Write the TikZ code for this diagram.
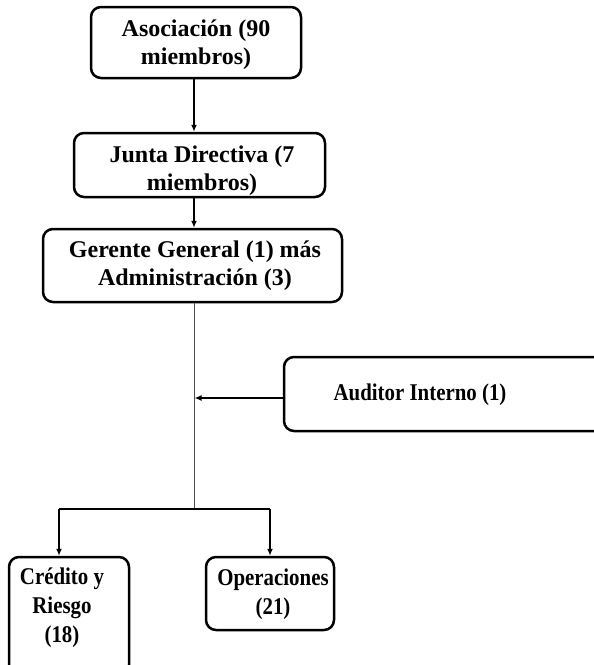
\documentclass[tikz,border=0pt]{standalone}
\usepackage{fontspec}
\setmainfont{Liberation Serif}
\newfontfamily\narrowserif[FakeStretch=0.87]{Liberation Serif}
\usetikzlibrary{arrows.meta}
\begin{document}
\begin{tikzpicture}[x=1pt,y=-1pt,
  boxnode/.style={draw, line width=2.5pt, rounded corners=10pt, inner sep=0pt},
  lbl/.style={align=center, inner sep=0pt, font=\fontsize{24}{28}\selectfont\bfseries},
  nlbl/.style={align=center, inner sep=0pt, font=\narrowserif\fontsize{24}{29}\selectfont\bfseries},
  arr/.style={line width=1.5pt, -{Latex[length=7pt,width=6pt]}},
  thinline/.style={line width=0.9pt, draw=black!70}]
\useasboundingbox (0,0) rectangle (594,665);
\node[boxnode, minimum width=210pt, minimum height=71pt] (A) at (196,42.5) {};
\node[lbl] (At) at (196,45) {Asociación (90\\miembros)};
\node[boxnode, minimum width=251pt, minimum height=64pt] (J) at (199.5,165) {};
\node[lbl] (Jt) at (202,170.5) {Junta Directiva (7\\miembros)};
\node[boxnode, minimum width=299pt, minimum height=73pt] (G) at (192.5,265.5) {};
\node[lbl] (Gt) at (195,266) {Gerente General (1) más\\Administración (3)};
\node[boxnode, minimum width=326pt, minimum height=74pt] (Au) at (447,394) {};
\node[nlbl] (Aut) at (420,395) {Auditor Interno (1)};
\node[boxnode, minimum width=120pt, minimum height=118pt] (C) at (69,616) {};
\node[nlbl] (Ct) at (62,608) {Crédito y\\Riesgo\\(18)};
\node[boxnode, minimum width=128pt, minimum height=73pt] (O) at (270,593.5) {};
\node[nlbl] (Ot) at (273,594) {Operaciones\\(21)};
\coordinate (bus) at (194,509);
\coordinate (busL) at (59,509);
\coordinate (busR) at (270,509);
\draw[arr] (bus |- A.south) -- (bus |- J.north);
\draw[arr] (bus |- J.south) -- (bus |- G.north);
\draw[thinline] (bus |- G.south) -- (bus);
\draw[arr] (Au.west |- 0,398) -- (194.5,398);
\draw[line width=1.5pt] (busL) -- (busR);
\draw[arr] (busL) -- (busL |- C.north);
\draw[arr] (busR) -- (busR |- O.north);
\end{tikzpicture}
\end{document}
